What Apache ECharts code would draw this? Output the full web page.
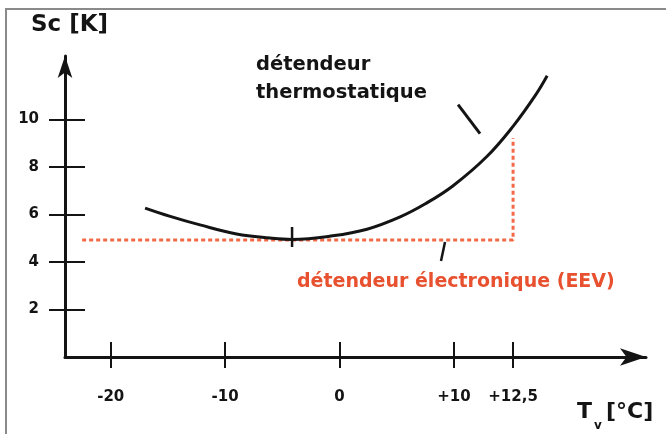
<!DOCTYPE html>
<html>
<head>
<meta charset="utf-8">
<script src="https://cdn.jsdelivr.net/npm/echarts@6/dist/echarts.min.js"></script>
<style>
html, body { margin: 0; padding: 0; background: #fff; }
#chart { width: 666px; height: 434px; }
</style>
</head>
<body>
<div id="chart"></div>
<script>
// axis ticks (the +12,5 tick sits where the drawing puts it, not to scale)
const xTickValues = [-20, -10, 0, 10, 15.17]
const xTickLabels = ['-20', '-10', '0', '+10', '+12,5']
const yTickValues = [2, 4, 6, 8, 10]

// superheat curve of the thermostatic valve [Tv, Sc]
const thermoCurve = [
	[-17.0, 6.27], [-14.8, 5.92], [-12.2, 5.56], [-9.0, 5.18], [-6.1, 5.01],
	[-4.15, 4.95], [-0.6, 5.10], [2.4, 5.38], [5.3, 5.9], [7.5, 6.45],
	[9.9, 7.2], [12.9, 8.45], [15.2, 9.73], [17.1, 11.0], [18.15, 11.84]
]
// constant superheat of the electronic valve
const eevLine = [[-22.5, 4.93], [15.17, 4.93], [15.17, 9.22]]
// small marks
const minMark = [[-4.15, 5.47], [-4.15, 4.63]]
const thermoPointer = [[10.36, 10.62], [12.28, 9.40]]
const eevPointer = [[9.22, 4.84], [8.87, 4.04]]

const font = 'DejaVu Sans'
const ink = '#141414'
const red = '#e8512f'
const xMin = -24
const xMax = 26.79
const yMax = 12.67

const chart = echarts.init(document.getElementById('chart'))

const lineSeries = (data, color, width, dash) => ({
	type: 'line',
	data: data,
	symbol: 'none',
	silent: true,
	lineStyle: { color: color, width: width, type: dash || 'solid' }
})

const option = {
	animation: false,
	grid: { left: 65, right: 20, top: 56, bottom: 77 },
	xAxis: [
		{
			type: 'value',
			min: xMin,
			max: xMax,
			axisLine: {
				onZero: false,
				symbol: ['none', 'arrow'],
				symbolSize: [13, 26],
				lineStyle: { color: ink, width: 3 }
			},
			axisTick: {
				customValues: xTickValues,
				length: 11,
				lineStyle: { color: ink, width: 2 }
			},
			axisLabel: {
				customValues: xTickValues,
				margin: 33,
				color: ink,
				fontFamily: font,
				fontWeight: 'bold',
				fontSize: 15,
				formatter: (v) => {
					const i = xTickValues.findIndex((t) => Math.abs(t - v) < 0.01)
					return i < 0 ? '' : xTickLabels[i]
				}
			},
			splitLine: { show: false }
		},
		{
			type: 'value',
			position: 'bottom',
			min: xMin,
			max: xMax,
			axisLine: { show: false, onZero: false },
			axisTick: {
				inside: true,
				customValues: xTickValues,
				length: 15,
				lineStyle: { color: ink, width: 2 }
			},
			axisLabel: { show: false },
			splitLine: { show: false }
		}
	],
	yAxis: [
		{
			type: 'value',
			min: 0,
			max: yMax,
			axisLine: {
				show: true,
				onZero: false,
				symbol: ['none', 'arrow'],
				symbolSize: [11, 22],
				lineStyle: { color: ink, width: 3 }
			},
			axisTick: {
				show: true,
				customValues: yTickValues,
				length: 16,
				lineStyle: { color: ink, width: 2 }
			},
			axisLabel: {
				customValues: yTickValues,
				margin: 26,
				color: ink,
				fontFamily: font,
				fontWeight: 'bold',
				fontSize: 15
			},
			splitLine: { show: false }
		},
		{
			type: 'value',
			position: 'left',
			min: 0,
			max: yMax,
			axisLine: { show: false, onZero: false },
			axisTick: {
				show: true,
				inside: true,
				customValues: yTickValues,
				length: 20,
				lineStyle: { color: ink, width: 2 }
			},
			axisLabel: { show: false },
			splitLine: { show: false }
		}
	],
	series: [
		lineSeries(eevLine, '#f26a48', 3, [4, 3]),
		Object.assign(lineSeries(thermoCurve, ink, 3), { smooth: 0.4 }),
		lineSeries(minMark, ink, 2.5),
		lineSeries(thermoPointer, ink, 3),
		lineSeries(eevPointer, ink, 2.5)
	],
	graphic: [
		{ type: 'rect', shape: { x: 5, y: 8, width: 661, height: 2 }, style: { fill: '#8a8a8a' } },
		{ type: 'rect', shape: { x: 5, y: 8, width: 2, height: 426 }, style: { fill: '#8a8a8a' } },
		{
			type: 'text', left: 31, top: 14,
			style: { text: 'Sc [K]', fill: ink, font: 'bold 23px "DejaVu Sans"' }
		},
		{
			type: 'text', left: 577, top: 401,
			style: { text: 'T', fill: ink, font: 'bold 22px "DejaVu Sans"' }
		},
		{
			type: 'text', left: 594, top: 420,
			style: { text: 'v', fill: ink, font: 'bold 12px "DejaVu Sans"' }
		},
		{
			type: 'text', left: 606, top: 401,
			style: { text: '[°C]', fill: ink, font: 'bold 22px "DejaVu Sans"' }
		},
		{
			type: 'text', left: 256, top: 51,
			style: {
				text: 'détendeur\nthermostatique',
				fill: ink,
				lineHeight: 28,
				font: 'bold 19.5px "DejaVu Sans"'
			}
		},
		{
			type: 'text', left: 297, top: 273,
			style: { text: 'détendeur électronique (EEV)', fill: red, font: 'bold 19px "DejaVu Sans"' }
		}
	]
}

chart.setOption(option)
</script>
</body>
</html>
